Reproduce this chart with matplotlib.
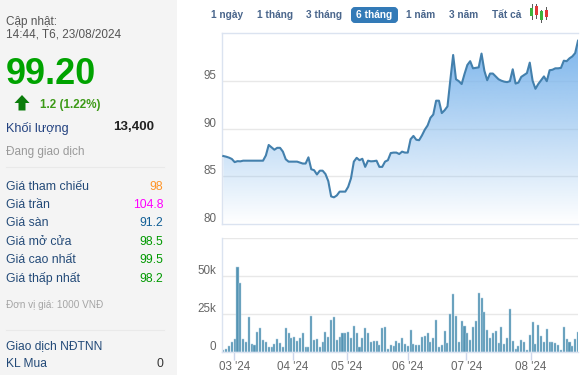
import numpy as np
import matplotlib
matplotlib.use("Agg")
import matplotlib.pyplot as plt
import matplotlib.transforms as mtrans
from matplotlib.patches import Rectangle, FancyBboxPatch, Polygon

plt.rcParams['font.family'] = ['Liberation Sans', 'DejaVu Sans']

price = [87.14,87.07,86.97,86.83,86.5,86.6,86.58,86.65,
         86.65,86.65,86.65,86.65,86.65,86.65,86.65,
         87.2,88.3,88.05,87.8,88.0,88.0,87.6,86.8,86.55,86.55,86.55,86.55,86.45,86.35,86.35,87.0,
         85.75,85.65,85.2,85.6,85.6,85.25,84.5,82.9,82.8,83.0,83.4,83.4,83.4,83.9,84.8,
         86.55,86.95,86.7,86.85,86.0,86.65,86.58,86.6,86.65,86.0,86.0,86.55,86.7,87.45,87.5,
         87.5,87.35,87.6,87.5,87.5,88.9,
         89.25,88.85,88.8,89.3,89.9,90.35,91.15,91.5,92.95,92.95,91.65,91.95,92.35,95.1,97.75,
         95.2,95.0,94.7,95.75,96.7,97.1,96.35,96.4,96.45,97.9,96.1,95.1,95.8,95.8,95.5,
         95.2,95.05,94.95,94.9,95.0,96.25,94.75,94.85,95.45,95.65,95.85,96.95,95.05,94.2,
         94.7,95.1,95.5,95.0,96.15,96.2,96.35,96.35,96.4,97.15,97.1,97.4,97.6,97.95,99.25]

volume_k = [0.8,1.5,3.5,6,8.3,56,45.5,8.3,6.5,23,4.7,4,13,15.5,7.7,6.5,3,3,4.7,8.3,5.4,
            3,15.5,12.6,9,9.5,7.2,9,12.6,3,3,23.6,7.7,8.3,3,6.5,13.3,9.5,21,23,7.7,
            9.5,12.6,12.6,13,9,17,12.6,3,9,15.5,12.6,6.5,7.2,7.2,4.3,15.5,16.2,1.5,4,3.4,
            7.2,5.4,9,4.7,3.6,14.4,4.7,4,4,9.7,10,12,6,9,21,3,4,13.7,5.4,25,38,23.6,6.5,
            20.5,17,12,7.7,16,20.5,38.7,35.8,26,14.4,9,12.6,13.7,5.4,16,4.7,9,28.6,7.2,
            1.5,3.6,7.7,6,0.8,10.8,19.4,4.7,17.6,10,6.5,15,6,6,5.4,4,0.8,16,8.3,6.5,3.6,8.3,13.3]

price_ticks = [80, 85, 90, 95]
volume_ticks = [0, 25, 50]
volume_tick_labels = ['0', '25k', '50k']
month_pos = [3.9, 24.6, 43.5, 65, 85.6, 108.3]
month_labels = ["03 '24", "04 '24", "05 '24", "06 '24", "07 '24", "08 '24"]

tabs = ['1 ngày', '1 tháng', '3 tháng', '6 tháng', '1 năm', '3 năm', 'Tất cả']
tab_centers = [227, 275, 324.5, 374.5, 421, 464, 507]

info_labels = ['Giá tham chiếu', 'Giá trần', 'Giá sàn', 'Giá mở cửa', 'Giá cao nhất', 'Giá thấp nhất']
info_values = ['98', '104.8', '91.2', '98.5', '99.5', '98.2']
info_colors = ['#ff9426', '#ff00ff', '#125f96', '#009900', '#009900', '#009900']
info_y = [186.5, 205, 223.5, 242, 260, 278.5]

W, H = 586, 375
fig = plt.figure(figsize=(W / 100, H / 100), dpi=100, facecolor='white')

def pixel_axes(x0, y0, x1, y1):
    return fig.add_axes([x0 / W, 1 - y1 / H, (x1 - x0) / W, (y1 - y0) / H])

XLIM = (-0.46, 125)
TXT = '#666666'
GRID = '#e8e8e8'
BORDER = '#dbe3f0'

ui = fig.add_axes([0, 0, 1, 1], zorder=0)
ui.set_xlim(0, W); ui.set_ylim(H, 0); ui.axis('off')
ui.add_patch(Rectangle((0, 0), 177, H, fc='#f4f4f4', ec='none'))

def t(x, y, s, size=12.3, color='#2f4d85', ha='left', weight='normal'):
    ui.text(x, y, s, fontsize=size * 0.72, color=color, ha=ha, va='center', fontweight=weight)

t(6.5, 21.5, 'Cập nhật:', 11.7, '#555555')
t(6.5, 34.5, '14:44, T6, 23/08/2024', 11.7, '#555555')
t(6, 74, '99.20', 36, '#00a300', weight='bold')
ui.add_patch(Polygon([(22, 95), (29.5, 103), (25.5, 103), (25.5, 110.5), (18.5, 110.5), (18.5, 103), (14.5, 103)],
                     fc='#0b7d0b', ec='none'))
t(40, 105, '1.2 (1.22%)', 11.6, '#3c9a16', weight='bold')
t(6.5, 128.5, 'Khối lượng', 12.6, '#234280')
t(154.5, 127.5, '13,400', 13.4, '#222222', ha='right', weight='bold')
t(6.5, 152.5, 'Đang giao dịch', 11.8, '#999999')
ui.plot([6, 164], [167, 167], color='#e9e9e9', lw=0.8)
for lab, val, col, y in zip(info_labels, info_values, info_colors, info_y):
    t(6.5, y, lab, 12.3, '#234a78')
    t(163.5, y, val, 12.3, col, ha='right')
t(6.5, 305.5, 'Đơn vị giá: 1000 VNĐ', 10, '#a5a5a5')
ui.plot([6, 164], [330, 330], color='#e9e9e9', lw=0.8)
t(6.5, 346, 'Giao dịch NĐTNN', 12, '#234a78')
t(6.5, 364, 'KL Mua', 12, '#234a78')
t(163.5, 364, '0', 12.3, '#333333', ha='right')

ui.add_patch(FancyBboxPatch((353, 9), 43, 12, boxstyle='round,pad=0,rounding_size=2',
                            fc='#337ab7', ec='#337ab7', lw=4 * 0.72))
for lab, cx in zip(tabs, tab_centers):
    active = lab == '6 tháng'
    ui.text(cx, 15.5, lab, fontsize=7.3, ha='center', va='center', fontweight='bold',
            color='white' if active else '#4a668c')

for cx, lo, hi, b0, b1, col in [(531.7, 4.3, 19, 8, 16, '#3cb43c'), (536.3, 3.5, 17.5, 6.3, 14.7, '#e03a3a'),
                                (541.3, 9.5, 21.5, 11.3, 20, '#3cb43c'), (546.3, 7, 19, 10, 16.7, '#e03a3a')]:
    ui.plot([cx, cx], [lo, hi], color='#555555', lw=0.7, zorder=2)
    ui.add_patch(Rectangle((cx - 1.7, b0), 3.4, b1 - b0, fc=col, ec='none', zorder=3))

ax = pixel_axes(222, 33, 578, 224)
ax.patch.set_alpha(0)
x = np.arange(len(price))
for v in price_ticks[1:]:
    ax.axhline(v, color=GRID, lw=1.0, zorder=1)
poly = ax.fill_between(x, price, 80, color='none', zorder=2)
rgba = np.zeros((256, 1, 4))
rgba[..., 0] = 124 / 255; rgba[..., 1] = 181 / 255; rgba[..., 2] = 236 / 255
rgba[..., 3] = np.linspace(1, 0, 256)[:, None]
im = ax.imshow(rgba, extent=(x[0], x[-1], 80, max(price)), aspect='auto', zorder=2, origin='upper')
im.set_clip_path(poly.get_paths()[0], transform=ax.transData)
ax.plot(x, price, color='#4380ad', lw=1.5, zorder=3, solid_joinstyle='round')
ax.set_xlim(*XLIM); ax.set_ylim(80, 100.06)
ax.set_xticks([])
ax.set_yticks(price_ticks)
ax.tick_params(axis='y', length=0, pad=4, labelsize=8.4, labelcolor=TXT)
ax.spines['right'].set_visible(False)
for s in ['top', 'left', 'bottom']:
    ax.spines[s].set_color(BORDER); ax.spines[s].set_linewidth(1.0)

av = pixel_axes(222, 238, 578, 351.5)
av.patch.set_alpha(0)
xv = np.arange(len(volume_k))
for v in volume_ticks[1:] + [75.6]:
    av.axhline(v, color=GRID, lw=1.0, zorder=1)
av.bar(xv, volume_k, width=0.72, color='#5393b3', edgecolor='#b5d2e3', linewidth=0.35, zorder=2)
av.set_xlim(*XLIM); av.set_ylim(0, 75.6)
av.set_yticks(volume_ticks)
av.set_yticklabels(volume_tick_labels)
av.set_xticks(month_pos)
av.set_xticklabels(month_labels)
av.tick_params(axis='y', length=0, pad=4, labelsize=8.4, labelcolor=TXT)
av.tick_params(axis='x', length=6, width=1, color='#ccd6eb', pad=1, labelsize=8.4, labelcolor=TXT)
for s in ['right', 'top']:
    av.spines[s].set_visible(False)
for s in ['left', 'bottom']:
    av.spines[s].set_color(BORDER); av.spines[s].set_linewidth(1.0)

up = mtrans.ScaledTranslation(0, 5 / 100, fig.dpi_scale_trans)
for axis_ in (ax, av):
    for lb in axis_.get_yticklabels():
        lb.set_va('center')
        lb.set_transform(lb.get_transform() + up)

fig.savefig('out.png', dpi=100)
